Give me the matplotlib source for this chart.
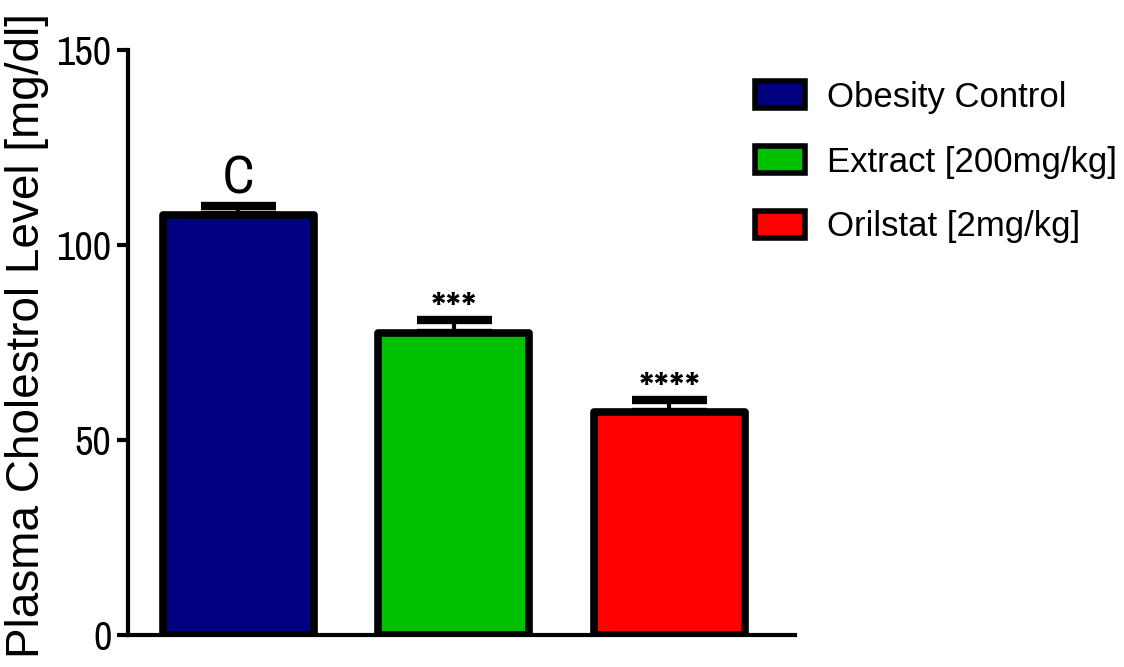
import matplotlib
matplotlib.use("Agg")
from matplotlib import pyplot as plt
from matplotlib.patches import Patch

groups = ["Obesity Control", "Extract [200mg/kg]", "Orilstat [2mg/kg]"]
means = [107.8, 77.4, 57.3]
sems = [2.1, 3.4, 2.9]
colors = ["#000080", "#00c000", "#ff0000"]
marks = ["C", "***", "****"]
yticks = [0, 50, 100, 150]

narrow = ["Archivo Narrow", "Liberation Sans", "DejaVu Sans"]
arial = ["Liberation Sans", "DejaVu Sans"]

fig = plt.figure(figsize=(11.24, 6.67), dpi=100)
ax = fig.add_axes([0.1139, 0.048, 0.593, 0.877])

x = list(range(len(means)))
bars = ax.bar(x, means, width=0.7, color=colors, edgecolor="black", linewidth=5.5, zorder=3)
for b in bars:
    b.set_joinstyle("round")
ax.errorbar(x, means, yerr=[[0] * len(sems), sems], fmt="none", ecolor="black",
            elinewidth=3, capsize=27, capthick=6, zorder=2)

# significance marks above the error caps
for xi, m, s, t in zip(x, means, sems, marks):
    if t.isalpha():
        ax.text(xi, m + s + 3.3, t, ha="center", va="baseline", fontsize=38, family=narrow)
    else:
        ax.text(xi, m + s - 1.2, t, ha="center", va="baseline", fontsize=35, family=narrow)

ax.set_ylim(0, 150)
ax.set_xlim(-0.51, 2.58)
ax.set_yticks(yticks)
ax.set_yticklabels([str(v) for v in yticks], family=narrow, fontsize=29)
ax.set_xticks([])
for side in ("top", "right"):
    ax.spines[side].set_visible(False)
for side in ("left", "bottom"):
    ax.spines[side].set_linewidth(3)
ax.tick_params(axis="y", length=8, width=3, pad=4)
ax.set_ylabel("Plasma Cholestrol Level [mg/dl]", fontsize=33, family=arial)
ax.yaxis.set_label_coords(-0.119, 0.512)

handles = [Patch(facecolor=c, edgecolor="black", linewidth=4, joinstyle="round", label=g)
           for c, g in zip(colors, groups)]
fig.legend(handles=handles, loc="upper left", bbox_to_anchor=(0.644, 0.926), frameon=False,
           prop={"family": arial, "size": 25}, handlelength=1.44, handleheight=0.8,
           labelspacing=0.92, handletextpad=0.63)

fig.savefig("out.png", dpi=100)
